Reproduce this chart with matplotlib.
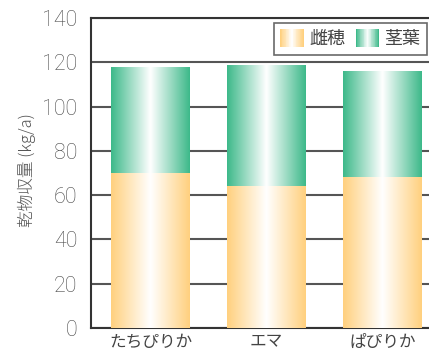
import numpy as np
import matplotlib
matplotlib.use("Agg")
import matplotlib.pyplot as plt
from matplotlib.patches import Rectangle, Patch
from matplotlib.legend_handler import HandlerBase
from matplotlib.colors import to_rgb

plt.rcParams['font.family'] = ['Noto Sans CJK JP', 'DejaVu Sans']

varieties = ['たちぴりか', 'エマ', 'ぱぴりか']
ear = [70, 64, 68]          # 雌穂
stover = [48, 55, 48]       # 茎葉
series_names = ['雌穂', '茎葉']

ORANGE = '#FFD07E'
GREEN = '#3DB98A'
TEXT = '#444444'


def gradient_rgb(color, n=200):
    # edge colour fading to white in the middle
    t = np.abs(np.linspace(-1, 1, n))
    c = np.array(to_rgb(color))
    row = 1 - (1 - c)[None, :] * t[:, None]
    return row[None, :, :]


class GradientHandler(HandlerBase):
    def __init__(self, color, strips=30):
        super().__init__()
        self.color = color
        self.strips = strips

    def create_artists(self, legend, orig_handle, xdescent, ydescent,
                       width, height, fontsize, trans):
        cols = gradient_rgb(self.color, self.strips)[0]
        w = width / self.strips
        arts = []
        for i, col in enumerate(cols):
            r = Rectangle((-xdescent + i * w, -ydescent), w * 1.05, height,
                          facecolor=col, edgecolor='none', transform=trans)
            arts.append(r)
        return arts


fig = plt.figure(figsize=(4.29, 3.51), dpi=100)
ax = fig.add_axes([91 / 429, 1 - 328 / 351, 1 - 91 / 429, 310 / 351])

x = np.arange(len(varieties))
width = 0.68

for bottom, vals, col in [(None, ear, ORANGE), (ear, stover, GREEN)]:
    bars = ax.bar(x, vals, width, bottom=bottom, facecolor='none',
                  edgecolor='none', zorder=3)
    for b in bars:
        x0, y0 = b.get_x(), b.get_y()
        im = ax.imshow(gradient_rgb(col), extent=[x0, x0 + b.get_width(),
                       y0, y0 + b.get_height()], aspect='auto',
                       interpolation='bilinear', zorder=3)
        im.set_clip_path(b)

ax.set_xlim(-0.513, 2.40)
ax.set_ylim(0, 140)
ax.set_yticks(range(0, 141, 20))
ax.set_xticks(x)
ax.set_xticklabels(varieties)
ax.yaxis.grid(True, color='#555555', linewidth=1.5, zorder=1)
ax.set_axisbelow(True)
ax.tick_params(length=0, labelsize=15.5, labelcolor='#4a4a4a', pad=10)
ax.tick_params(axis='x', labelsize=12, labelcolor=TEXT, pad=4)
for lab in ax.get_yticklabels():
    lab.set_fontfamily(['Roboto', 'DejaVu Sans'])
    lab.set_fontweight('light')

ax.spines['right'].set_visible(False)
for side in ['left', 'bottom', 'top']:
    ax.spines[side].set_color('#333333')
    ax.spines[side].set_linewidth(1.5)

ax.set_ylabel('乾物収量 (kg/a)', fontsize=12, color='#555555',
              fontweight='light')
ax.yaxis.set_label_coords(-0.163, 0.51)

handles = [Patch(label=series_names[0]), Patch(label=series_names[1])]
leg = ax.legend(handles, series_names, loc='upper right',
                bbox_to_anchor=(0.994, 0.984), ncol=2, fontsize=13,
                frameon=True, fancybox=False, handlelength=1.3,
                handleheight=1.15, columnspacing=0.6, handletextpad=0.3,
                borderpad=0.35, borderaxespad=0,
                handler_map={handles[0]: GradientHandler(ORANGE),
                             handles[1]: GradientHandler(GREEN)})
leg.get_frame().set_edgecolor('#444444')
leg.get_frame().set_linewidth(1.2)
for t in leg.get_texts():
    t.set_color(TEXT)

fig.savefig('out.png', dpi=100)
